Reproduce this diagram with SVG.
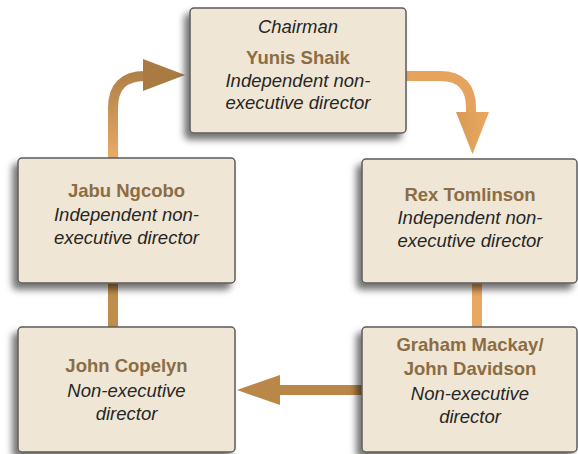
<svg xmlns="http://www.w3.org/2000/svg" width="578" height="454" viewBox="0 0 578 454">
  <style>
    .box { fill: #F0E6D5; stroke: #5c5c5c; stroke-width: 1.5; filter: url(#shadow); }
    .name { font-family: "Liberation Sans", Arial, sans-serif; font-weight: bold; font-size: 18.5px; fill: #8B6D45; text-anchor: middle; }
    .role { font-family: "Liberation Sans", Arial, sans-serif; font-style: italic; font-size: 18.5px; fill: #262626; text-anchor: middle; }
    .band { fill: none; stroke-width: 10; stroke-linecap: butt; }
  </style>
  <defs>
    <filter id="shadow" x="-20%" y="-20%" width="140%" height="150%">
      <feDropShadow dx="-5" dy="6" stdDeviation="3.5" flood-color="#000" flood-opacity="0.55"/>
    </filter>
    <linearGradient id="gLeftUp" gradientUnits="userSpaceOnUse" x1="0" y1="158" x2="0" y2="60">
      <stop offset="0" stop-color="#E9AA66"/>
      <stop offset="1" stop-color="#A87A43"/>
    </linearGradient>
    <linearGradient id="gRightDown" gradientUnits="userSpaceOnUse" x1="456" y1="0" x2="490" y2="0">
      <stop offset="0" stop-color="#D89A55"/>
      <stop offset="1" stop-color="#E9A962"/>
    </linearGradient>
  </defs>

  <!-- connectors -->
  <g id="connectors">
    <path class="band" d="M 406 76 H 440 Q 471 76 471 108 V 114" stroke="#E5A35D"/>
    <polygon points="456,112 489,112 472.5,154" fill="url(#gRightDown)"/>
    <path class="band" d="M 477 283 V 327" stroke="#E9A862"/>
    <path class="band" d="M 362 390 H 278" stroke="#B98748"/>
    <polygon points="280,375 280,405 237,390" fill="#B98748"/>
    <path class="band" d="M 113 327 V 283" stroke="#C08E4B"/>
    <path class="band" d="M 113 158 V 108 Q 113 76 145 76" stroke="url(#gLeftUp)"/>
    <polygon points="143,59 143,91 185,75" fill="#A97B43"/>
  </g>

  <!-- chairman -->
  <g id="node-yunis-shaik">
    <rect class="box" x="190" y="8" width="216" height="125" rx="4"/>
    <text class="role" x="298" y="33">Chairman</text>
    <text class="name" x="298" y="64">Yunis Shaik</text>
    <text class="role" x="298" y="87">Independent non-</text>
    <text class="role" x="298" y="109">executive director</text>
  </g>

  <g id="node-rex-tomlinson">
    <rect class="box" x="362" y="159" width="215" height="124" rx="4"/>
    <text class="name" x="470" y="201">Rex Tomlinson</text>
    <text class="role" x="470" y="224">Independent non-</text>
    <text class="role" x="470" y="247">executive director</text>
  </g>

  <g id="node-graham-mackay-john-davidson">
    <rect class="box" x="362" y="327" width="215" height="125" rx="4"/>
    <text class="name" x="470" y="351">Graham Mackay/</text>
    <text class="name" x="470" y="375">John Davidson</text>
    <text class="role" x="470" y="400">Non-executive</text>
    <text class="role" x="470" y="423">director</text>
  </g>

  <g id="node-john-copelyn">
    <rect class="box" x="18" y="327" width="217" height="125" rx="4"/>
    <text class="name" x="126.5" y="372">John Copelyn</text>
    <text class="role" x="126.5" y="397">Non-executive</text>
    <text class="role" x="126.5" y="420">director</text>
  </g>

  <g id="node-jabu-ngcobo">
    <rect class="box" x="18" y="158" width="217" height="125" rx="4"/>
    <text class="name" x="126.5" y="197">Jabu Ngcobo</text>
    <text class="role" x="126.5" y="221">Independent non-</text>
    <text class="role" x="126.5" y="244">executive director</text>
  </g>
</svg>
